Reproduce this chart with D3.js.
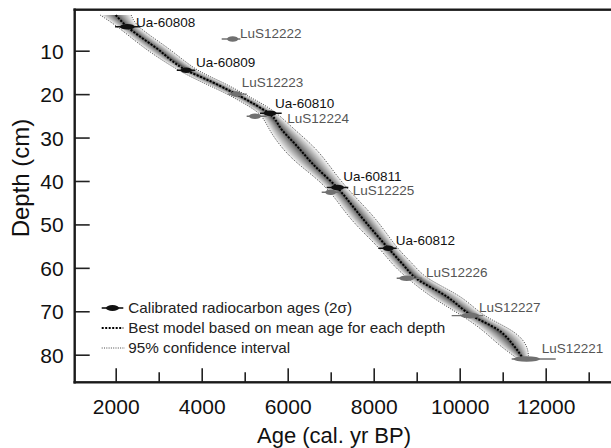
<!DOCTYPE html>
<html><head><meta charset="utf-8">
<script src="https://cdn.jsdelivr.net/npm/d3@7"></script>
<style>body{margin:0;background:#fff} svg{display:block;font-family:"Liberation Sans",Arial,Helvetica,sans-serif}</style>
</head><body><svg id="c" width="611" height="448"></svg>
<script>
// ---- data ----
const dateNames = ["Ua-60808","LuS12222","Ua-60809","LuS12223","Ua-60810","LuS12224","Ua-60811","LuS12225","Ua-60812","LuS12226","LuS12227","LuS12221"];
const dateLab   = ["Ua","LuS","Ua","LuS","Ua","LuS","Ua","LuS","Ua","LuS","LuS","LuS"];
const dateDepth = [4.5, 7.3, 14.5, 20, 24.4, 25.1, 41.5, 42.6, 55.5, 62.4, 71, 81];
const dateAge   = [2270, 4720, 3640, 4800, 5590, 5240, 7160, 7000, 8340, 8767, 10240, 11558];
const dateMin   = [1985, 4465, 3420, 4610, 5356, 5046, 6907, 6791, 8107, 8535, 9814, 11209];
const dateMax   = [2565, 4900, 3850, 5050, 5860, 5512, 7409, 7216, 8535, 9116, 10549, 12233];

const modelDepth = [1.8, 4.5, 9.5, 14.5, 17.2, 20, 22.4, 24.6, 28.3, 32, 35.9, 41.5, 48.5, 55.5, 59, 62.4, 66.6, 71, 74.3, 77.8, 81];
const modelMean  = [2000, 2270, 2960, 3640, 4240, 4800, 5240, 5590, 5870, 6220, 6565, 7150, 7730, 8340, 8660, 8980, 9700, 10280, 10900, 11250, 11480];
const modelLower = [1640, 2060, 2660, 3440, 3990, 4610, 5030, 5400, 5570, 5830, 6195, 6960, 7400, 8150, 8410, 8780, 9310, 10060, 10540, 10910, 11360];
const modelUpper = [2360, 2480, 3260, 3840, 4490, 4990, 5450, 5780, 6170, 6610, 6935, 7340, 8060, 8530, 8910, 9180, 10090, 10500, 11260, 11590, 11600];

const xTicks = [2000, 4000, 6000, 8000, 10000, 12000];
const xMinorTicks = [3000, 5000, 7000, 9000, 11000, 13000];
const yTicks = [10, 20, 30, 40, 50, 60, 70, 80];
const legendLabels = ["Calibrated radiocarbon ages (2σ)", "Best model based on mean age for each depth", "95% confidence interval"];
const xTitle = "Age (cal. yr BP)";
const yTitle = "Depth (cm)";

// ---- layout ----
const labelOffsets = [[8.7,0.5],[7.3,-0.7],[9.8,-3.5],[5.6,-7.1],[4.9,-4.9],[32.3,6.4],[5.7,-6.6],[22,2.4],[7.4,-3.3],[19.3,-1.6],[9,-3.9],[15,-5.7]];
const L = 74.7, T = 9.7, B = 382.3, R = 611;

const svg = d3.select("#c");
const x = d3.scaleLinear().domain([2000, 12000]).range([115.7, 545.7]);
const y = d3.scaleLinear().domain([10, 80]).range([50.7, 354.7]);

svg.append("defs").append("clipPath").attr("id","clip")
  .append("rect").attr("x",L).attr("y",T).attr("width",R-L).attr("height",B-T);

const model = modelDepth.map((d,i)=>({d, m:modelMean[i], lo:modelLower[i], hi:modelUpper[i]}));
const g = svg.append("g").attr("clip-path","url(#clip)");

// confidence band gradient (dark core, light halo)
const N = 20;
for (let k = 0; k < N; k++) {
  const f = Math.pow(1 - k / N, 2);
  const area = d3.area().curve(d3.curveBasis)
    .y(p => y(p.d))
    .x0(p => x(p.m - f * (p.m - p.lo)))
    .x1(p => x(p.m + f * (p.hi - p.m)));
  g.append("path").attr("d", area(model)).attr("fill","#000").attr("fill-opacity",0.06);
}
const lineLo = d3.line().curve(d3.curveBasis).y(p=>y(p.d)).x(p=>x(p.lo));
const lineHi = d3.line().curve(d3.curveBasis).y(p=>y(p.d)).x(p=>x(p.hi));
const lineM  = d3.line().curve(d3.curveMonotoneY).y(p=>y(p.d)).x(p=>x(p.m));
[lineLo, lineHi].forEach(ln => g.append("path").attr("d", ln(model)).attr("fill","none")
  .attr("stroke","#333").attr("stroke-width",0.9).attr("stroke-dasharray","1,1.3"));
g.append("path").attr("d", lineM(model)).attr("fill","none")
  .attr("stroke","#000").attr("stroke-width",2).attr("stroke-dasharray","2,1.5");

// calibrated dates
const dates = dateNames.map((n,i)=>({n, lab:dateLab[i], d:dateDepth[i], a:dateAge[i], mn:dateMin[i], mx:dateMax[i], off:labelOffsets[i]}));
const col = l => l === "Ua" ? "#111" : "#707070";
const tcol = l => l === "Ua" ? "#111" : "#555";
dates.forEach(p => {
  const yy = y(p.d);
  g.append("line").attr("x1",x(p.mn)).attr("x2",x(p.mx)).attr("y1",yy).attr("y2",yy)
    .attr("stroke",col(p.lab)).attr("stroke-width",1.4);
  g.append("ellipse").attr("cx",x(p.a)).attr("cy",yy).attr("rx",(x(p.mx)-x(p.mn))*0.3).attr("ry",2.8)
    .attr("fill",col(p.lab));
});
svg.selectAll("text.lbl").data(dates).join("text").attr("class","lbl")
  .attr("transform",p=>`translate(${x(p.a)+p.off[0]},${y(p.d)+p.off[1]}) scale(1.04,1)`)
  .attr("font-size",13).attr("fill",p=>tcol(p.lab)).text(p=>p.n);

// axes
svg.append("g").attr("transform",`translate(0,${B})`)
  .call(d3.axisBottom(x).tickValues(xTicks).tickSize(-14).tickPadding(17).tickFormat(d3.format("d")));
svg.append("g").attr("transform",`translate(0,${B})`)
  .call(d3.axisBottom(x).tickValues(xMinorTicks).tickSize(-10).tickFormat(""));
const ay = svg.append("g").attr("transform",`translate(${L},0)`)
  .call(d3.axisLeft(y).tickValues(yTicks).tickSize(-15).tickPadding(11));
svg.selectAll(".domain").remove();
svg.selectAll(".tick line").attr("stroke","#222").attr("stroke-width",1.6);
svg.selectAll(".tick text").attr("font-size",21).attr("fill","#111").attr("font-family",null);
ay.selectAll(".tick text").attr("dy","0.36em");

// frame
svg.append("rect").attr("x",L-1.2).attr("y",T-1.2).attr("width",R-L+1.2).attr("height",2.4).attr("fill","#1a1a1a");
svg.append("rect").attr("x",L-1.2).attr("y",B-1.2).attr("width",R-L+1.2).attr("height",2.4).attr("fill","#1a1a1a");
svg.append("rect").attr("x",L-1.2).attr("y",T-1.2).attr("width",2.4).attr("height",B-T+2.4).attr("fill","#1a1a1a");

// titles
svg.append("text").attr("x",334).attr("y",443).attr("text-anchor","middle").attr("font-size",22).attr("fill","#111").text(xTitle);
svg.append("text").attr("transform","translate(29,178) rotate(-90)").attr("text-anchor","middle").attr("font-size",24).attr("fill","#111").text(yTitle);

// legend
const lg = svg.append("g");
const ly = [308, 328, 348];
lg.append("line").attr("x1",101.7).attr("x2",123.3).attr("y1",ly[0]).attr("y2",ly[0]).attr("stroke","#111").attr("stroke-width",1.6);
lg.append("ellipse").attr("cx",112.5).attr("cy",ly[0]).attr("rx",6.5).attr("ry",3).attr("fill","#111");
lg.append("line").attr("x1",101.7).attr("x2",123.3).attr("y1",ly[1]).attr("y2",ly[1]).attr("stroke","#000").attr("stroke-width",2).attr("stroke-dasharray","2,1.5");
lg.append("line").attr("x1",101.7).attr("x2",125).attr("y1",ly[2]).attr("y2",ly[2]).attr("stroke","#333").attr("stroke-width",0.9).attr("stroke-dasharray","1,1.3");
lg.selectAll("text").data(legendLabels).join("text")
  .attr("transform",(d,i)=>`translate(128.3,${ly[i]+5}) scale(1.09,1)`).attr("font-size",14).attr("fill","#222").text(d=>d);
</script></body></html>
